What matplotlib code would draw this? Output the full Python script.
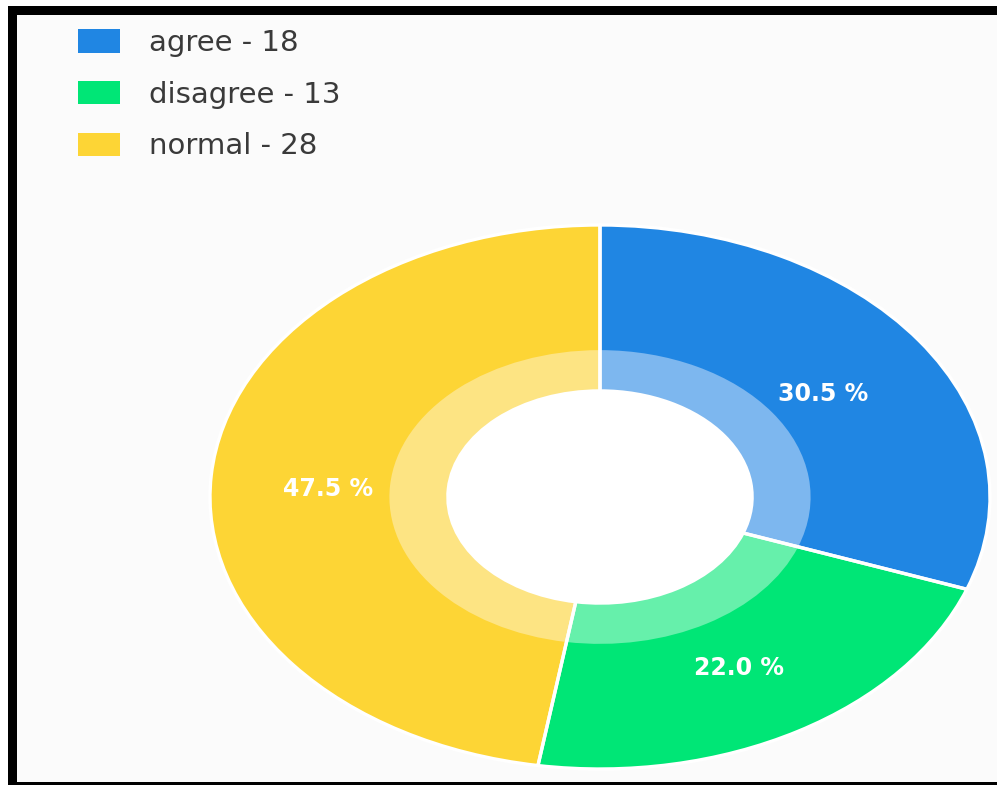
import matplotlib
matplotlib.use("Agg")
import matplotlib.pyplot as plt
from matplotlib.patches import Rectangle, Patch

# survey answers
labels = ["agree", "disagree", "normal"]
counts = [18, 13, 28]
colors = ["#2086e3", "#00e676", "#fdd535"]
light_colors = ["#7db7ef", "#66f0ab", "#fde483"]

W, H = 997, 785
fig = plt.figure(figsize=(W / 100, H / 100), dpi=100)
fig.patch.set_facecolor("#fbfbfb")

# donut is stretched sideways in the original, so axes box is not square
ax = fig.add_axes([210 / W, (H - 769) / H, 780 / W, 544 / H])

hole = 0.39
wedges, texts, autotexts = ax.pie(
    counts,
    colors=colors,
    startangle=90,
    counterclock=False,
    radius=1.0,
    autopct="%.1f %%",
    pctdistance=0.7,
    wedgeprops=dict(width=1 - hole, linewidth=0),
    textprops=dict(color="white", fontsize=17, fontweight="bold",
                   family="DejaVu Sans", zorder=5),
)

# lighter inner ring
ax.pie(
    counts,
    colors=light_colors,
    startangle=90,
    counterclock=False,
    radius=0.54,
    wedgeprops=dict(width=0.54 - hole, linewidth=0),
)

# white gaps between slices
ax.pie(
    counts,
    colors=["none"] * len(counts),
    startangle=90,
    counterclock=False,
    radius=1.0,
    wedgeprops=dict(width=1 - hole, edgecolor="white", linewidth=2.4),
)

# white centre
ax.pie([1], colors=["white"], radius=hole, wedgeprops=dict(linewidth=0))

for t in autotexts:
    x, y = t.get_position()
    t.set_position((x, y - 0.025))

ax.set_aspect("auto")
ax.set_xlim(-1, 1)
ax.set_ylim(-1, 1)
ax.axis("off")

# legend top left
handles = [Patch(facecolor=c, edgecolor="none") for c in colors]
legend_labels = [f"{l} - {n}" for l, n in zip(labels, counts)]
fig.legend(handles, legend_labels, loc="upper left",
           bbox_to_anchor=(78 / W, 1 - 29 / H), frameon=False,
           fontsize=21, handlelength=1.45, handleheight=0.85,
           handletextpad=1.0, labelspacing=0.81, borderpad=0,
           borderaxespad=0, labelcolor="#3a3a3a")

# white margin and black frame lines (top, left, bottom)
fig.patches.append(Rectangle((0, 0), 8 / W, 1, transform=fig.transFigure,
                             facecolor="white", edgecolor="none", zorder=0.5))
fig.patches.append(Rectangle((0, 1 - 6 / H), 1, 6 / H, transform=fig.transFigure,
                             facecolor="white", edgecolor="none", zorder=0.5))
fig.patches.append(Rectangle((8 / W, 1 - 15 / H), 1, 9 / H, transform=fig.transFigure,
                             facecolor="black", edgecolor="none", zorder=3))
fig.patches.append(Rectangle((8 / W, 0), 9 / W, 1 - 6 / H, transform=fig.transFigure,
                             facecolor="black", edgecolor="none", zorder=3))
fig.patches.append(Rectangle((8 / W, 0), 1, 3 / H, transform=fig.transFigure,
                             facecolor="black", edgecolor="none", zorder=3))

fig.savefig("out.png", dpi=100, facecolor=fig.get_facecolor())
